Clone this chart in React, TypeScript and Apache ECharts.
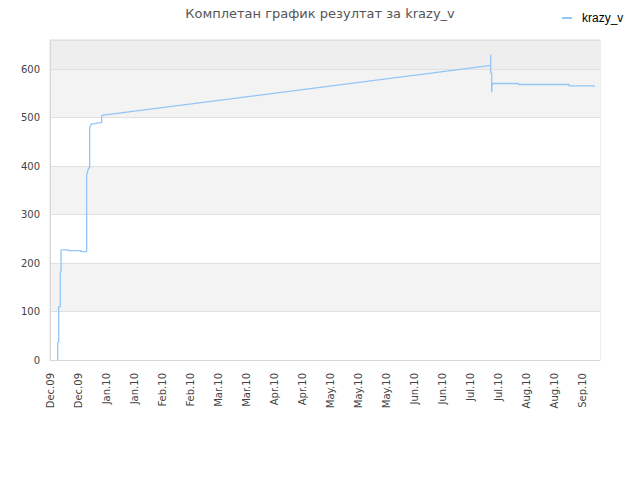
import React, { useEffect, useRef } from "react";
import * as echarts from "echarts";

// x positions are days after Mon 14 Dec 2009; ticks every 14 days
const X_TICK_LABELS = [
  "Dec.09", "Dec.09", "Jan.10", "Jan.10", "Feb.10", "Feb.10", "Mar.10", "Mar.10",
  "Apr.10", "Apr.10", "May.10", "May.10", "May.10", "Jun.10", "Jun.10", "Jul.10",
  "Jul.10", "Aug.10", "Aug.10", "Sep.10",
];
const DAY_STEP = 14;
const DAY_MAX = 274.5;

const DAYS = [
  3.84, 3.84, 4.34, 4.34, 5.14, 5.14, 5.5, 5.5, 9.1, 9.2, 15.5, 15.5, 18.3, 18.3,
  18.8, 19.3, 19.8, 19.8, 20.5, 25.8, 25.8, 26.6, 219.25, 219.95, 219.95, 219.95,
  220.45, 220.45, 220.75, 233.7, 233.7, 259.0, 259.0, 272.0,
];
const SCORES = [
  0, 36, 37, 110, 110, 182, 182, 227, 227, 225.6, 225.6, 223.5, 223.5, 382,
  389, 396, 396, 478, 486.5, 490, 503.6, 505, 607, 607, 629.5, 591.7,
  591.7, 551.7, 570.3, 570.3, 568.2, 568.2, 565.5, 565.5,
];

const Y_MAX = 660;
const Y_STEP = 100;

const SERIES_NAME = "krazy_v";
const TITLE = "Комплетан график резултат за krazy_v";

export default function App() {
  const ref = useRef<HTMLDivElement>(null);
  useEffect(() => {
    if (!ref.current) return;
    const chart = echarts.init(ref.current, null, { renderer: "svg" });
    const font = "DejaVu Sans";
    const lineColor = "#93c5f6";
    chart.setOption({
      animation: false,
      backgroundColor: "#ffffff",
      title: {
        text: TITLE,
        left: "center",
        top: 2,
        textStyle: { fontFamily: font, fontSize: 13, fontWeight: "normal", color: "#555" },
      },
      legend: {
        left: 562,
        top: 12,
        padding: 0,
        itemWidth: 10,
        itemHeight: 2,
        icon: "rect",
        data: [SERIES_NAME],
        textStyle: {
          fontFamily: "Liberation Sans",
          fontSize: 12,
          color: "#000",
          padding: [0, 0, 0, 5],
        },
      },
      grid: {
        left: 50,
        right: 40,
        top: 40,
        bottom: 120,
        show: true,
        borderColor: "#dddddd",
        borderWidth: 1,
        containLabel: false,
      },
      xAxis: {
        type: "value",
        min: 0,
        max: DAY_MAX,
        interval: DAY_STEP,
        axisLine: { show: true, lineStyle: { color: "#d8d8d8" } },
        axisTick: { show: false },
        splitLine: { show: false },
        axisLabel: {
          rotate: 90,
          margin: 13,
          fontFamily: font,
          fontSize: 10,
          color: "#444",
          showMaxLabel: false,
          formatter: (v: number) => {
            const i = Math.round(v / DAY_STEP);
            if (Math.abs(v - i * DAY_STEP) > 1e-6) return "";
            return X_TICK_LABELS[i] ?? "";
          },
        },
      },
      yAxis: {
        type: "value",
        min: 0,
        max: Y_MAX,
        interval: Y_STEP,
        axisLine: { show: true, lineStyle: { color: "#d8d8d8" } },
        axisTick: { show: false },
        splitLine: { show: true, lineStyle: { color: "#e0e0e0" } },
        splitArea: {
          show: true,
          areaStyle: {
            color: ["#ffffff", "#f3f3f3", "#ffffff", "#f3f3f3", "#ffffff", "#f3f3f3", "#eeeeee"],
          },
        },
        axisLabel: {
          margin: 10,
          fontFamily: font,
          fontSize: 10,
          color: "#444",
          showMaxLabel: false,
          formatter: (v: number) => (v % Y_STEP === 0 ? String(v) : ""),
        },
      },
      series: [
        {
          name: SERIES_NAME,
          type: "line",
          showSymbol: false,
          symbol: "none",
          data: DAYS.map((d, i) => [d, SCORES[i]]),
          lineStyle: { color: lineColor, width: 1.3 },
          itemStyle: { color: lineColor },
        },
      ],
    });
    return () => chart.dispose();
  }, []);
  return (
    <div
      ref={ref}
      style={{ position: "fixed", left: 0, top: 0, width: 640, height: 480, background: "#fff" }}
    />
  );
}
